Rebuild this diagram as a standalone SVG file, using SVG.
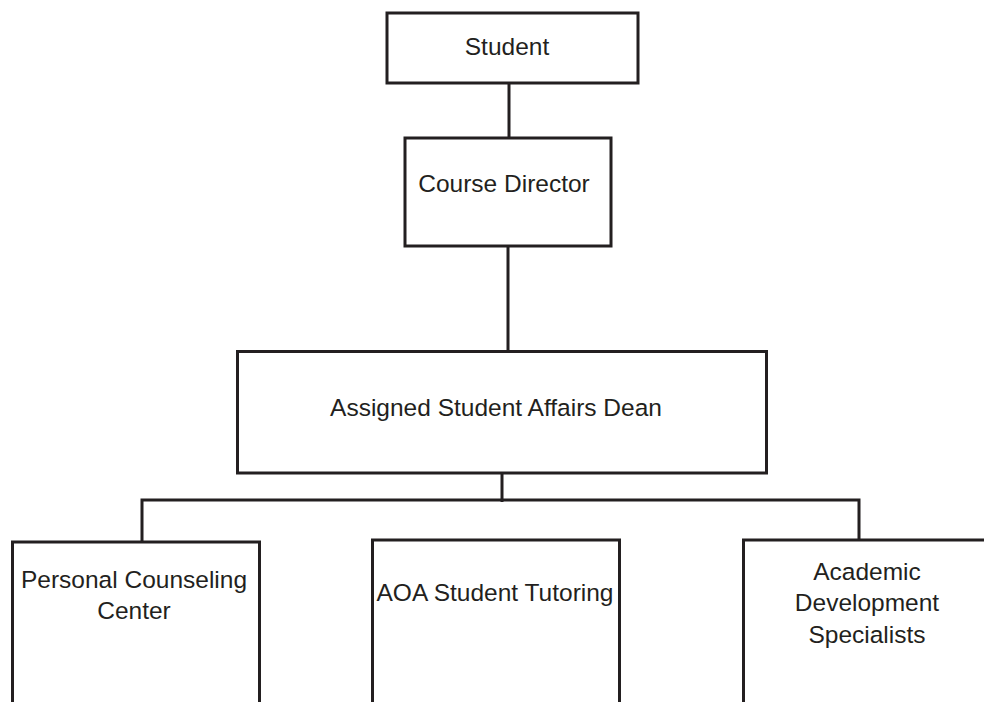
<svg xmlns="http://www.w3.org/2000/svg" width="984" height="702" viewBox="0 0 984 702">
<style>
.box{fill:#fff;stroke:#231f20;stroke-width:3}
.ln{fill:none;stroke:#231f20;stroke-width:3}
.t{font-family:"Liberation Sans",Arial,sans-serif;font-size:24.5px;fill:#231f20;text-anchor:middle}
</style>
<rect width="984" height="702" fill="#fff"/>
<g id="connectors">
<line class="ln" x1="509" y1="83" x2="509" y2="137"/>
<line class="ln" x1="508" y1="246" x2="508" y2="350"/>
<line class="ln" x1="502" y1="473" x2="502" y2="502"/>
<polyline class="ln" points="142,541 142,500 859,500 859,540"/>
</g>
<g id="student">
<rect class="box" x="387" y="13" width="251" height="70"/>
<text class="t" x="507" y="55">Student</text>
</g>
<g id="course-director">
<rect class="box" x="405" y="138" width="206" height="108"/>
<text class="t" x="504" y="192">Course Director</text>
</g>
<g id="dean">
<rect class="box" x="237.5" y="351.5" width="529" height="121.5"/>
<text class="t" x="496" y="416">Assigned Student Affairs Dean</text>
</g>
<g id="personal-counseling">
<rect class="box" x="12.5" y="542" width="247" height="180"/>
<text class="t" x="134" y="588">Personal Counseling</text>
<text class="t" x="134" y="619">Center</text>
</g>
<g id="aoa-tutoring">
<rect class="box" x="372.5" y="540" width="247" height="180"/>
<text class="t" x="495" y="601">AOA Student Tutoring</text>
</g>
<g id="academic-development">
<rect class="box" x="743.5" y="540" width="260" height="180"/>
<text class="t" x="867" y="580">Academic</text>
<text class="t" x="867" y="611">Development</text>
<text class="t" x="867" y="643">Specialists</text>
</g>
</svg>
